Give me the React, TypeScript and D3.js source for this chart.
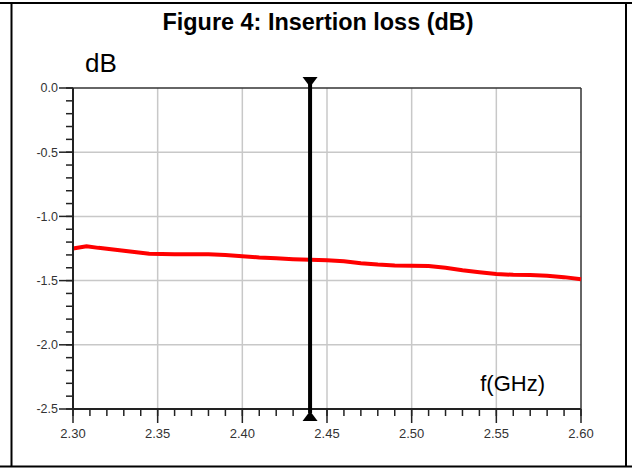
import React from "react";
import * as d3 from "d3";

const freqGHz = [2.300, 2.308, 2.315, 2.325, 2.335, 2.345, 2.36, 2.38, 2.39, 2.40, 2.41, 2.42, 2.43, 2.44, 2.45, 2.46, 2.47, 2.48, 2.49, 2.50, 2.51, 2.52, 2.53, 2.54, 2.55, 2.56, 2.57, 2.58, 2.59, 2.60];
const lossDB = [-1.25, -1.232, -1.245, -1.26, -1.275, -1.29, -1.295, -1.295, -1.30, -1.31, -1.32, -1.326, -1.333, -1.338, -1.342, -1.35, -1.365, -1.375, -1.382, -1.384, -1.387, -1.40, -1.42, -1.435, -1.448, -1.455, -1.457, -1.462, -1.473, -1.49];
const xTicks = [2.30, 2.35, 2.40, 2.45, 2.50, 2.55, 2.60];
const yTicks = [0.0, -0.5, -1.0, -1.5, -2.0, -2.5];
const markerFreq = 2.44;
const title = "Figure 4: Insertion loss (dB)";

export default function App() {
  const W = 632, H = 468;
  const x = d3.scaleLinear().domain([2.3, 2.6]).range([73, 581]);
  const y = d3.scaleLinear().domain([0, -2.5]).range([88, 409]);
  const xMinor = d3.range(2.30, 2.6001, 0.01).map(v => +v.toFixed(2));
  const yMinor = d3.range(0, -2.5001, -0.1).map(v => +v.toFixed(1));
  const line = d3.line<number>().x((_, i) => x(freqGHz[i])).y(d => y(d));
  const font = "Arial, 'Liberation Sans', sans-serif";
  const mx = x(markerFreq);
  return (
    <svg width={W} height={H} style={{ position: "absolute", left: 0, top: 0 }} fontFamily={font}>
      <rect width={W} height={H} fill="#fff" />
      {/* outer frame */}
      <line x1={0} x2={W} y1={3} y2={3} stroke="#000" strokeWidth={2} />
      <line x1={0} x2={W} y1={466.5} y2={466.5} stroke="#000" strokeWidth={2} />
      <line x1={11.5} x2={11.5} y1={3} y2={467} stroke="#000" strokeWidth={2} />
      <line x1={626} x2={626} y1={3} y2={467} stroke="#000" strokeWidth={2} />
      <text x={318} y={30} textAnchor="middle" fontWeight="bold" fontSize={23} fill="#000" textLength={311} lengthAdjust="spacingAndGlyphs">{title}</text>
      <text x={85} y={72} fontSize={26} fill="#000">dB</text>
      {/* grid */}
      {xTicks.slice(1, -1).map(t => (
        <line key={"gx" + t} x1={x(t)} x2={x(t)} y1={y(0)} y2={y(-2.5)} stroke="#c8c8c8" strokeWidth={1.5} />
      ))}
      {yTicks.slice(1, -1).map(t => (
        <line key={"gy" + t} x1={x(2.3)} x2={x(2.6)} y1={y(t)} y2={y(t)} stroke="#c8c8c8" strokeWidth={1.5} />
      ))}
      <text x={545} y={391} textAnchor="end" fontSize={22} fill="#000">f(GHz)</text>
      {/* frame lines */}
      <line x1={x(2.3)} x2={x(2.6)} y1={y(0)} y2={y(0)} stroke="#333" strokeWidth={1.5} />
      <line x1={x(2.6)} x2={x(2.6)} y1={y(0)} y2={y(-2.5)} stroke="#333" strokeWidth={1.5} />
      {/* data */}
      <path d={line(lossDB) || ""} fill="none" stroke="#ff0000" strokeWidth={4} />
      {/* axes */}
      <line x1={x(2.3)} x2={x(2.3)} y1={y(0)} y2={y(-2.5)} stroke="#222" strokeWidth={2} />
      <line x1={x(2.3)} x2={x(2.6)} y1={y(-2.5)} y2={y(-2.5)} stroke="#222" strokeWidth={2} />
      {yMinor.map(t => (
        <line key={"ym" + t} x1={x(2.3) - 7} x2={x(2.3)} y1={y(t)} y2={y(t)} stroke="#222" strokeWidth={1.5} />
      ))}
      {yTicks.map(t => (
        <g key={"yt" + t}>
          <line x1={x(2.3) - 14} x2={x(2.3)} y1={y(t)} y2={y(t)} stroke="#222" strokeWidth={1.5} />
          <text x={x(2.3) - 15} y={y(t)} dy="0.35em" textAnchor="end" fontSize={12.5} fill="#333">{t.toFixed(1)}</text>
        </g>
      ))}
      {xMinor.map(t => (
        <line key={"xm" + t} x1={x(t)} x2={x(t)} y1={y(-2.5)} y2={y(-2.5) + 7} stroke="#222" strokeWidth={1.5} />
      ))}
      {xTicks.map(t => (
        <g key={"xt" + t}>
          <line x1={x(t)} x2={x(t)} y1={y(-2.5)} y2={y(-2.5) + 14} stroke="#222" strokeWidth={1.5} />
          <text x={x(t)} y={y(-2.5) + 24} dy="0.35em" textAnchor="middle" fontSize={13} fill="#333">{t.toFixed(2)}</text>
        </g>
      ))}
      {/* marker */}
      <line x1={mx} x2={mx} y1={y(0) - 4} y2={y(-2.5) + 4} stroke="#000" strokeWidth={4} />
      <path d={`M${mx - 7.5},${y(0) - 11} L${mx + 7.5},${y(0) - 11} L${mx},${y(0) - 1} Z`} fill="#000" />
      <path d={`M${mx - 7.5},${y(-2.5) + 12} L${mx + 7.5},${y(-2.5) + 12} L${mx},${y(-2.5) + 2} Z`} fill="#000" />
    </svg>
  );
}
